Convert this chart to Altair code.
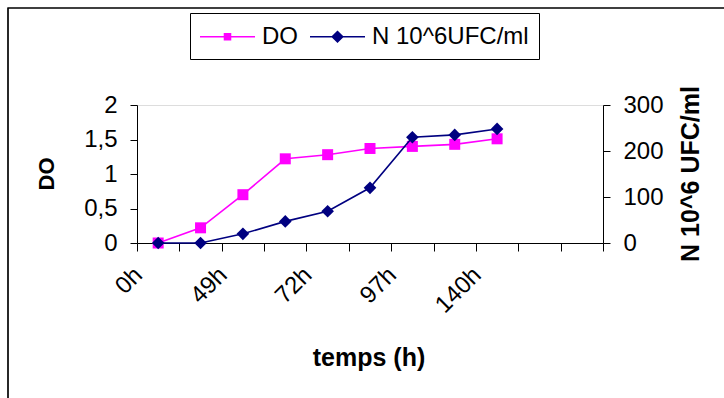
import altair as alt
import pandas as pd

# ---- data ----
tick_labels = ["0h", "", "49h", "", "72h", "", "97h", "", "140h", "", ""]
step_index = [0, 1, 2, 3, 4, 5, 6, 7, 8]
do_values = [0.0, 0.22, 0.70, 1.22, 1.28, 1.37, 1.40, 1.43, 1.51]
n_values = [0, 0, 20, 47, 69, 120, 230, 235, 248]
series_names = ["DO", "N 10^6UFC/ml"]
series_colors = ["#FF00FF", "#000080"]
do_ticks = [0, 0.5, 1, 1.5, 2]
n_ticks = [0, 100, 200, 300]

FONT = "Liberation Sans"

df = pd.DataFrame({"i": step_index, "do": do_values, "n": n_values})
legend_df = pd.DataFrame({"series": series_names})

label_expr = "[" + ",".join("'" + t + "'" for t in tick_labels) + "][datum.value]"

x_enc = alt.X(
    "i:O",
    scale=alt.Scale(type="band", domain=list(range(len(tick_labels))),
                    paddingInner=0, paddingOuter=0),
    axis=alt.Axis(
        title="temps (h)", labelExpr=label_expr, labelAngle=315,
        labelAlign="right", labelBaseline="middle", tickBand="extent",
        tickSize=8, labelPadding=20, labelOffset=-20, labelFontSize=24,
        labelFont=FONT, labelColor="black", domainColor="black",
        tickColor="black", grid=False,
        titleFont=FONT, titleFontSize=25, titleFontWeight="bold",
        titleColor="black", titleX=231.5, titleY=122,
        titleAlign="center", titleBaseline="alphabetic",
    ),
)

left = alt.Chart(df).mark_line(
    color=series_colors[0], strokeWidth=1.6,
    point=alt.OverlayMarkDef(shape="square", filled=True, size=121,
                             color=series_colors[0], opacity=1),
).encode(
    x=x_enc,
    y=alt.Y("do:Q", scale=alt.Scale(domain=[0, 2], nice=False),
            axis=alt.Axis(
                title="DO", values=do_ticks, orient="left",
                labelExpr="replace(format(datum.value, '~g'), '.', ',')",
                tickSize=7, labelPadding=13, labelFontSize=24, labelFont=FONT,
                labelColor="black", domainColor="black", tickColor="black",
                grid=False, titleFont=FONT, titleFontSize=22,
                titleFontWeight="bold", titleColor="black", titleAngle=270,
                titleX=-84, titleY=68.5, titleAlign="center",
                titleBaseline="alphabetic")),
)

right = alt.Chart(df).mark_line(
    color=series_colors[1], strokeWidth=1.6,
    point=alt.OverlayMarkDef(shape="diamond", filled=True, size=160,
                             color=series_colors[1], opacity=1),
).encode(
    x=x_enc,
    y=alt.Y("n:Q", scale=alt.Scale(domain=[0, 300], nice=False),
            axis=alt.Axis(
                title="N 10^6 UFC/ml", values=n_ticks, orient="right",
                tickSize=7, labelPadding=13, labelFontSize=24, labelFont=FONT,
                labelColor="black", domainColor="black", tickColor="black",
                grid=False, titleFont=FONT, titleFontSize=25,
                titleFontWeight="bold", titleColor="black", titleAngle=270,
                titleX=95, titleY=68.5, titleAlign="center",
                titleBaseline="alphabetic")),
)

# legend glyphs: a line segment with the marker in its middle
legend_shapes = [
    "M-1,-0.052H3.074V0.052H-1Z M0.757,-0.28H1.317V0.28H0.757Z",
    "M-1,-0.052H3.074V0.052H-1Z M1.037,-0.47L1.507,0L1.037,0.47L0.567,0Z",
]

legend_props = dict(
    title=None, orient="none", direction="horizontal",
    legendX=53, legendY=-92, strokeColor="black",
    fillColor="white", padding=10, symbolSize=729,
    symbolStrokeWidth=0, symbolOpacity=1,
    labelFontSize=24, labelFont=FONT, labelColor="black",
    labelOffset=35, columnPadding=12, cornerRadius=0,
)

legend_layer = alt.Chart(legend_df).mark_point(filled=True, size=10).encode(
    x=alt.value(-2000),
    y=alt.value(-2000),
    color=alt.Color("series:N",
                    scale=alt.Scale(domain=series_names, range=series_colors),
                    legend=alt.Legend(**legend_props)),
    shape=alt.Shape("series:N",
                    scale=alt.Scale(domain=series_names, range=legend_shapes),
                    legend=alt.Legend(**legend_props)),
)

frame = alt.Chart(legend_df).mark_rect(
    fill="white", fillOpacity=0, stroke="black", strokeWidth=1.2
).encode(
    x=alt.value(-129), x2=alt.value(800),
    y=alt.value(-97), y2=alt.value(500),
)

chart = alt.layer(frame, left, right, legend_layer).resolve_scale(
    y="independent"
).properties(
    width=466, height=138,
    autosize=alt.AutoSizeParams(type="none"),
    padding={"left": 137, "top": 105, "right": 121, "bottom": 155},
).configure_view(stroke=None).configure(background="white")

chart.save("out.html", embed_options={"renderer": "svg", "actions": False})
